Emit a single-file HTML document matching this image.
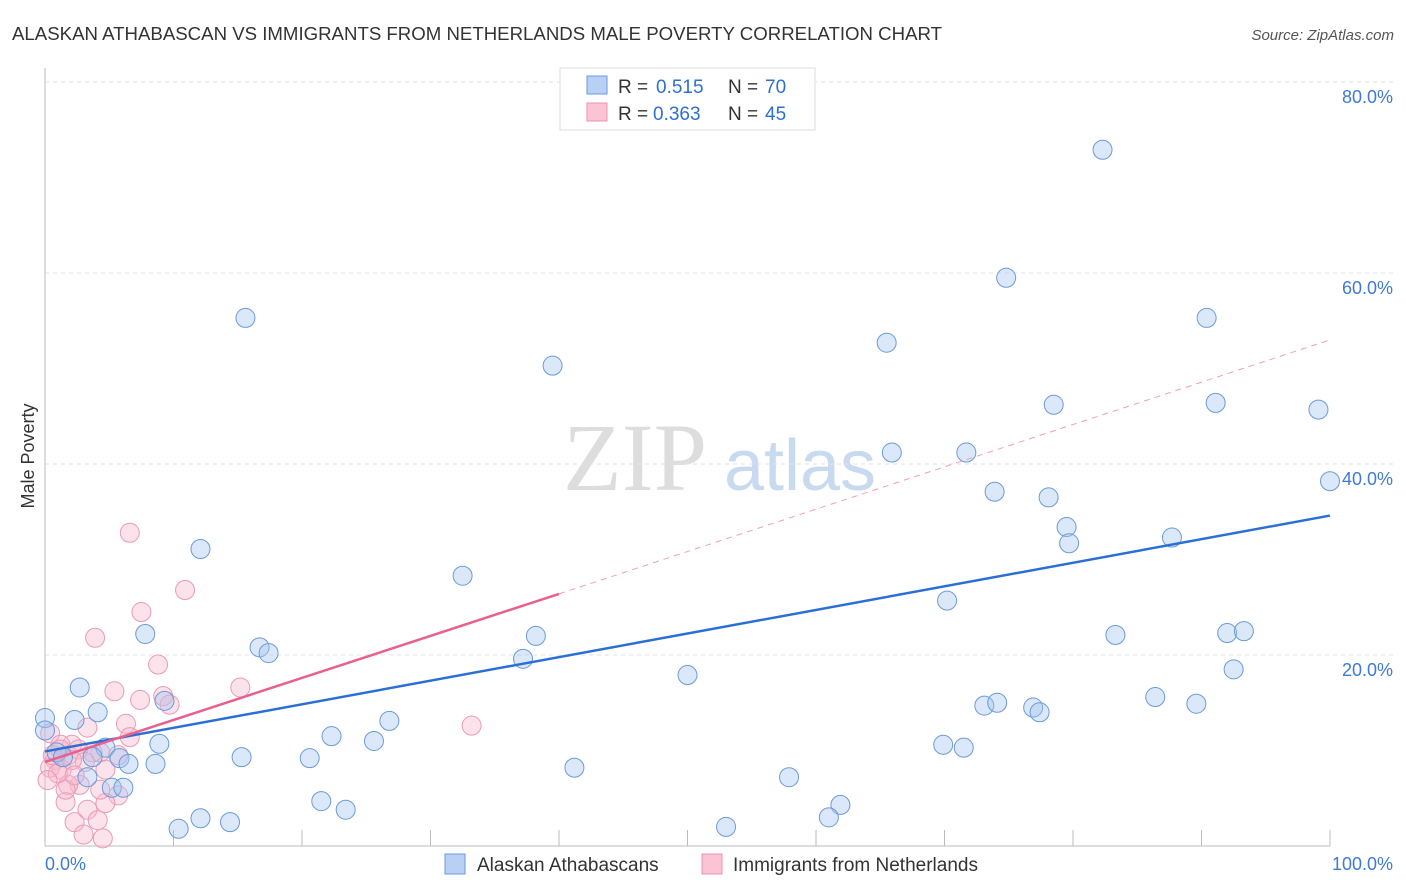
<!DOCTYPE html>
<html><head><meta charset="utf-8"><style>
body{margin:0;background:#fff;font-family:"Liberation Sans",sans-serif}
</style></head><body>
<svg id="c" width="1406" height="892" style="display:block">
<text x="12" y="40" font-size="18" fill="#333" textLength="930" lengthAdjust="spacingAndGlyphs">ALASKAN ATHABASCAN VS IMMIGRANTS FROM NETHERLANDS MALE POVERTY CORRELATION CHART</text>
<text x="1394" y="40" font-size="15" fill="#555" text-anchor="end" font-style="italic">Source: ZipAtlas.com</text>
<text x="34" y="456" font-size="18" fill="#333" text-anchor="middle" transform="rotate(-90 34 456)">Male Poverty</text>
<g><text x="635" y="490" font-size="96" font-family="Liberation Serif,serif" fill="#ddd" text-anchor="middle">ZIP</text><text x="800" y="490" font-size="72" fill="#c8daf0" text-anchor="middle">atlas</text></g>
<g id="grid"></g><g id="axes"></g><g id="pts"></g><g id="lines"></g>
<g>
<rect x="560" y="68" width="255" height="62" fill="#fff" stroke="#ddd"/>
<rect x="587" y="76" width="20" height="18" fill="#b8d0f4" stroke="#6a9ae0"/>
<rect x="587" y="103" width="20" height="18" fill="#fac4d4" stroke="#ee92b0"/>
<text x="618" y="93" font-size="19" fill="#333">R =</text><text x="656" y="93" font-size="19" fill="#2f6fd0">0.515</text>
<text x="728" y="93" font-size="19" fill="#333">N =</text><text x="765" y="93" font-size="19" fill="#2f6fd0">70</text>
<text x="618" y="120" font-size="19" fill="#333">R =</text><text x="653" y="120" font-size="19" fill="#2f6fd0">0.363</text>
<text x="728" y="120" font-size="19" fill="#333">N =</text><text x="765" y="120" font-size="19" fill="#2f6fd0">45</text>
</g>
<g>
<rect x="445" y="854" width="20" height="20" fill="#b8d0f4" stroke="#6a9ae0"/>
<text x="477" y="871" font-size="19" fill="#333">Alaskan Athabascans</text>
<rect x="702" y="854" width="20" height="20" fill="#fac4d4" stroke="#ee92b0"/>
<text x="733" y="871" font-size="19" fill="#333">Immigrants from Netherlands</text>
</g>
</svg>
<script>
const yTicks=[20,40,60,80];
const yTickLabels=["20.0%","40.0%","60.0%","80.0%"];
const xTickLabels=["0.0%","100.0%"];
const blueX=[82.3,74.8,15.6,90.4,65.5,39.5,78.5,91.1,99.1,65.9,71.7,100,73.9,78.1,79.5,79.7,87.7,12.1,32.5,70.2,7.8,38.2,83.3,92.0,93.3,16.7,17.4,37.2,92.5,50.0,2.7,86.4,89.6,73.1,74.1,9.3,76.9,77.4,4.1,0,2.3,26.8,22.3,25.6,69.9,71.5,8.9,4.7,0.9,1.4,3.7,5.8,15.3,20.6,6.5,8.6,41.2,3.3,57.9,5.2,6.1,21.5,61.9,23.4,61.0,12.1,14.4,10.4,53.0,0];
const blueY=[72.9,59.5,55.3,55.3,52.7,50.3,46.2,46.4,45.7,41.2,41.2,38.2,37.1,36.5,33.4,31.7,32.3,31.1,28.3,25.7,22.2,22.0,22.1,22.3,22.5,20.8,20.2,19.6,18.5,17.9,16.6,15.6,14.9,14.7,15.0,15.2,14.5,14.0,14.0,13.4,13.2,13.1,11.5,11.0,10.6,10.3,10.7,10.3,9.8,9.3,9.3,9.2,9.3,9.2,8.6,8.6,8.2,7.2,7.2,6.1,6.1,4.7,4.3,3.8,3.0,2.9,2.5,1.8,2.0,12.1];
const pinkX=[6.6,7.5,10.9,3.9,8.8,15.2,5.4,9.2,7.4,33.2,6.3,3.3,6.6,2.1,0.4,1.2,4.3,1.8,0.8,0.4,1.3,4.7,2.7,1.8,5.7,1.6,4.7,3.3,2.3,4.1,3.0,4.5,1.0,0.2,3.7,2.6,3.1,1.2,2.1,0.6,4.3,1.6,9.7,2.3,5.7];
const pinkY=[32.8,24.5,26.8,21.8,19.0,16.6,16.2,15.7,15.3,12.6,12.8,12.4,11.4,10.6,11.8,10.6,9.8,9.5,9.0,8.2,8.0,8.0,6.4,6.4,5.3,4.6,4.5,3.8,2.5,2.7,1.2,0.8,7.6,6.9,9.8,10.1,8.8,10.1,9.0,9.5,5.9,5.9,14.8,7.4,9.5];
const blueTrend=[[0,9.9],[100,34.6]];
const pinkTrend=[[0,8.8],[40,26.4]];
const pinkDash=[[40,26.4],[100,53.0]];
const X=v=>45+v*12.85, Y=v=>846-v*9.55;
const NS="http://www.w3.org/2000/svg";
function mk(t,a,p){const e=document.createElementNS(NS,t);for(const k in a)e.setAttribute(k,a[k]);p.appendChild(e);return e;}
const grid=document.getElementById('grid'),axes=document.getElementById('axes'),pts=document.getElementById('pts'),lines=document.getElementById('lines');
yTicks.forEach((t,i)=>{
 const l=mk('line',{x1:45,x2:1394,y1:Y(t),y2:Y(t),stroke:'#e2e2e2','stroke-dasharray':'4,4'},grid);
 
 
 const tx=mk('text',{x:1393,y:Y(t)+21,'font-size':18,fill:'#3f7ad6','text-anchor':'end'},axes);
 tx.textContent=yTickLabels[i];
 
 
});
const ya=mk('line',{x1:45,x2:45,y1:68,y2:846,stroke:'#bbb'},axes);


const xa=mk('line',{x1:45,x2:1330,y1:846,y2:846,stroke:'#bbb'},axes);


for(let i=0;i<=10;i++){const t=mk('line',{x1:X(i*10),x2:X(i*10),y1:830,y2:846,stroke:'#bbb'},axes);
 
 }
[[0,45,'start'],[100,1393,'end']].forEach((d,i)=>{const t=mk('text',{x:d[1],y:870,'font-size':18,fill:'#3f7ad6','text-anchor':d[2]},axes);t.textContent=xTickLabels[i];
 
 });
function dots(xs,ys,fill,stroke,name){xs.forEach((x,i)=>{const c=mk('circle',{cx:X(x),cy:Y(ys[i]),r:9.5,fill:fill,stroke:stroke,'stroke-width':1},pts);
 
 });}
dots(pinkX,pinkY,'rgba(248,185,205,0.4)','#eb9ab4','netherlands-point');
dots(blueX,blueY,'rgba(165,198,240,0.4)','#6b9ada','athabascan-point');
function ln(p,col,w,dash,name){const l=mk('line',{x1:X(p[0][0]),y1:Y(p[0][1]),x2:X(p[1][0]),y2:Y(p[1][1]),stroke:col,'stroke-width':w},lines);if(dash)l.setAttribute('stroke-dasharray',dash);
 
 }
ln(pinkDash,'#eea0b8',1,'6,5','netherlands-trend-extension');
ln(blueTrend,'#2a6fd6',2.5,null,'athabascan-trendline');
ln(pinkTrend,'#e8608c',2.5,null,'netherlands-trendline');
</script>
</body></html>
